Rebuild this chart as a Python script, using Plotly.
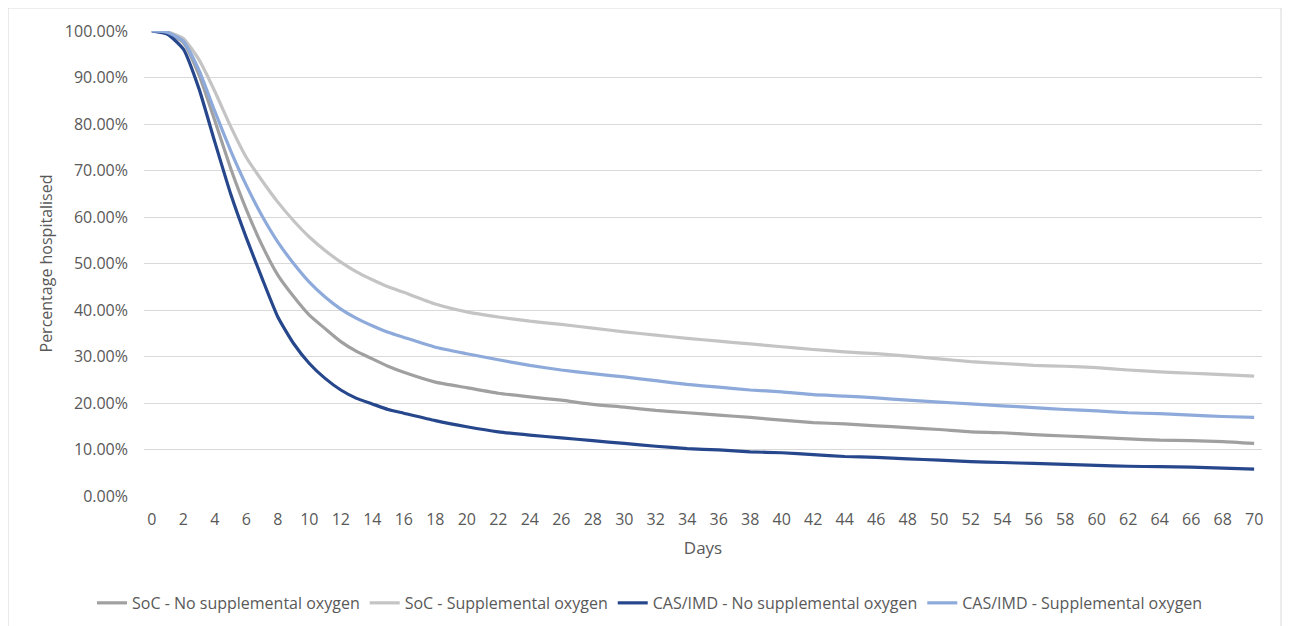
import plotly.graph_objects as go

days = list(range(0, 17)) + list(range(18, 71, 2))

soc_no_oxygen = [100, 99.6, 97.5, 90.5, 80.7, 70.5, 61.6, 53.9, 47.5, 42.9, 38.9, 36.0, 33.2, 31.1, 29.5, 27.9, 26.6,
                 24.5, 23.3, 22.1, 21.3, 20.6, 19.7, 19.1, 18.4, 17.9, 17.4, 16.9, 16.3, 15.8, 15.5, 15.1, 14.7,
                 14.3, 13.8, 13.6, 13.2, 12.9, 12.6, 12.3, 12.0, 11.9, 11.7, 11.3]
soc_oxygen = [100, 99.8, 98.4, 93.8, 87.0, 79.5, 72.8, 67.8, 63.2, 59.2, 55.7, 52.8, 50.3, 48.2, 46.5, 45.0, 43.8,
              41.3, 39.6, 38.5, 37.6, 36.9, 36.1, 35.3, 34.6, 33.9, 33.3, 32.7, 32.1, 31.5, 31.0, 30.6, 30.1,
              29.5, 28.9, 28.5, 28.1, 27.9, 27.6, 27.1, 26.7, 26.4, 26.1, 25.8]
cas_no_oxygen = [100, 99.3, 96.1, 87.5, 76.1, 65.0, 55.5, 46.8, 38.5, 32.8, 28.5, 25.3, 22.8, 21.0, 19.8, 18.6, 17.8,
                 16.2, 14.9, 13.8, 13.1, 12.5, 11.9, 11.3, 10.7, 10.2, 9.9, 9.5, 9.3, 8.9, 8.5, 8.3, 8.0,
                 7.7, 7.4, 7.2, 7.0, 6.8, 6.6, 6.4, 6.3, 6.2, 6.0, 5.8]
cas_oxygen = [100, 99.7, 97.8, 91.5, 82.7, 74.3, 66.8, 60.2, 54.6, 50.0, 46.0, 42.8, 40.2, 38.2, 36.6, 35.2, 34.1,
              32.0, 30.6, 29.3, 28.1, 27.1, 26.3, 25.6, 24.8, 24.0, 23.4, 22.8, 22.4, 21.8, 21.5, 21.1, 20.6,
              20.2, 19.8, 19.4, 19.0, 18.6, 18.3, 17.9, 17.7, 17.4, 17.1, 16.9]

series_names = ["SoC - No supplemental oxygen", "SoC - Supplemental oxygen",
                "CAS/IMD - No supplemental oxygen", "CAS/IMD - Supplemental oxygen"]
series_values = [soc_no_oxygen, soc_oxygen, cas_no_oxygen, cas_oxygen]
series_colors = ["#a0a0a0", "#c4c4c4", "#27478c", "#8eaadb"]

x_ticks = list(range(0, 71, 2))
y_ticks = [i / 10 for i in range(0, 11)]

FONT = "Open Sans, sans-serif"
TXT = "#595959"

fig = go.Figure()
for name, vals, col in zip(series_names, series_values, series_colors):
    fig.add_trace(go.Scatter(
        x=days, y=[v / 100 for v in vals], name=name, mode="lines",
        line=dict(color=col, width=3.2, shape="spline", smoothing=0.5),
    ))

fig.update_layout(
    width=1290, height=626,
    margin=dict(l=136, r=36, t=23, b=138),
    paper_bgcolor="white", plot_bgcolor="white",
    font=dict(family=FONT, size=15, color=TXT),
    showlegend=True,
    legend=dict(orientation="h", x=0.4526, xanchor="center", y=-0.230, yanchor="middle",
                font=dict(family=FONT, size=16, color=TXT), tracegroupgap=0),
    xaxis=dict(range=[-0.5, 70.5], tickmode="array", tickvals=x_ticks, ticktext=[str(t) for t in x_ticks],
               showgrid=False, zeroline=False, showline=False, ticks="", ticklabelstandoff=12,
               tickfont=dict(family=FONT, size=16, color=TXT),
               title=dict(text="Days", font=dict(family=FONT, size=17, color=TXT), standoff=13)),
    yaxis=dict(range=[0, 1], tickmode="array", tickvals=y_ticks, tickformat=".2%",
               showgrid=True, gridcolor="#d9d9d9", gridwidth=1, zeroline=False, showline=False, ticks="",
               ticklabelstandoff=15,
               tickfont=dict(family=FONT, size=16, color=TXT),
               title=dict(text="Percentage hospitalised", font=dict(family=FONT, size=16, color=TXT), standoff=8)),
    shapes=[dict(type="rect", xref="paper", yref="paper", x0=-0.1216, x1=1.017, y0=-0.30, y1=1.0495,
                 line=dict(color="#d9d9d9", width=1), fillcolor="rgba(0,0,0,0)", layer="below")],
)

fig.write_html("out.html")
